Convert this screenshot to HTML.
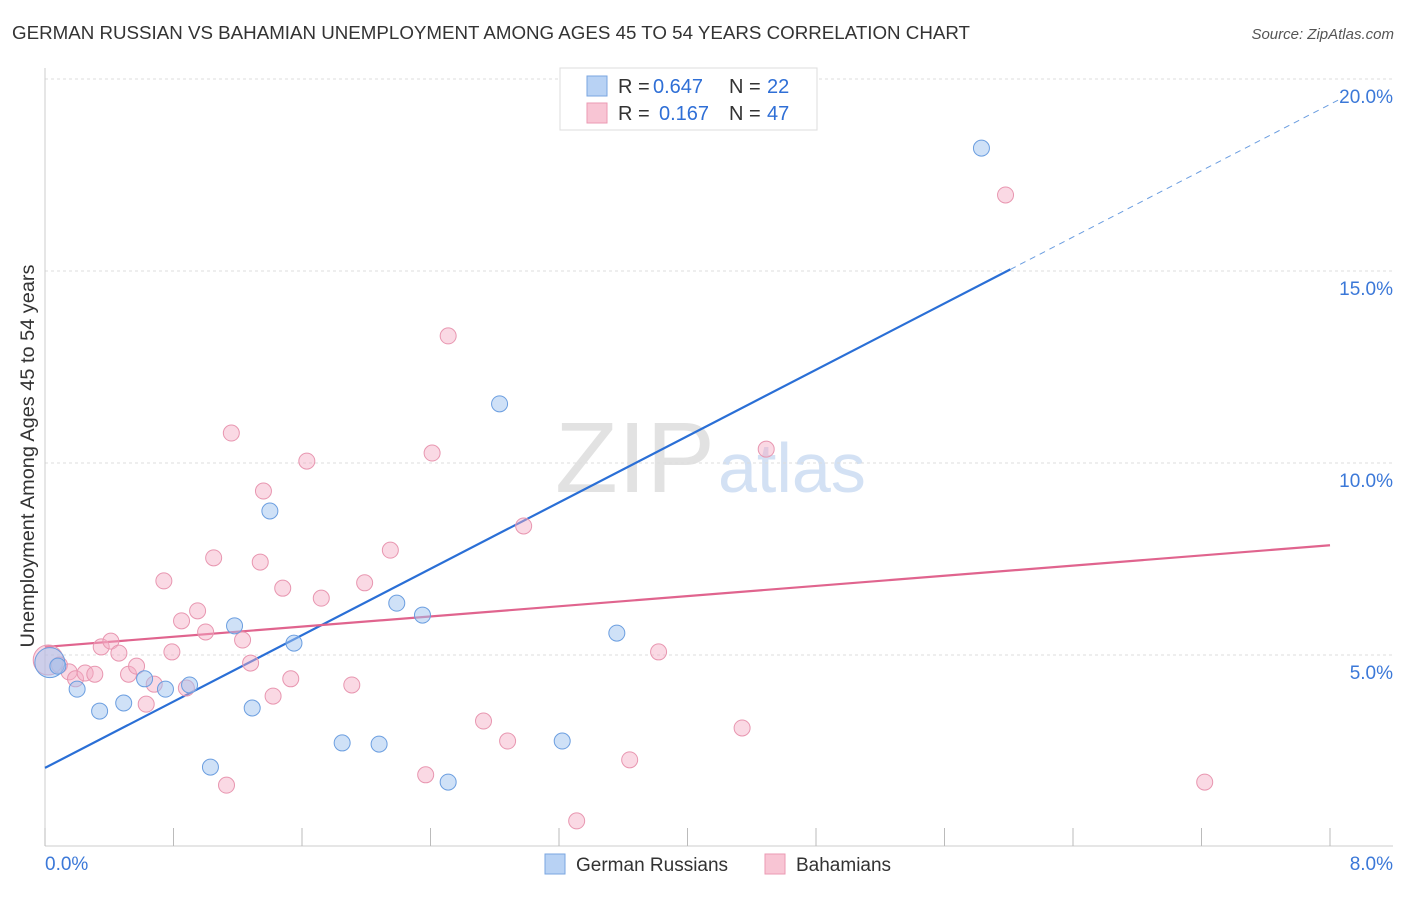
<!DOCTYPE html>
<html><head><meta charset="utf-8"><style>
body{margin:0;background:#fff;font-family:"Liberation Sans",sans-serif}
svg text{font-family:"Liberation Sans",sans-serif}
</style></head><body>
<svg id="c" width="1406" height="892" viewBox="0 0 1406 892">
<text x="12" y="39" font-size="18" fill="#333" textLength="958" lengthAdjust="spacingAndGlyphs">GERMAN RUSSIAN VS BAHAMIAN UNEMPLOYMENT AMONG AGES 45 TO 54 YEARS CORRELATION CHART</text>
<text x="1394" y="39" font-size="15" fill="#555" font-style="italic" text-anchor="end">Source: ZipAtlas.com</text>
<text transform="translate(34,456) rotate(-90)" font-size="19" fill="#333" text-anchor="middle" textLength="383" lengthAdjust="spacingAndGlyphs">Unemployment Among Ages 45 to 54 years</text>
<text x="555" y="492" font-size="100" fill="#e2e2e2" font-family="Liberation Serif" textLength="160" lengthAdjust="spacingAndGlyphs">ZIP</text>
<text x="718" y="492" font-size="70" fill="#d3e1f4">atlas</text>
<g id="grid"></g><g id="axes"></g><g id="lines"></g><g id="pts"></g>
<g>
<rect x="560" y="68" width="257" height="62" fill="#fff" stroke="#ddd"/>
<rect x="587" y="76" width="20" height="20" fill="#b8d2f4" stroke="#7aa6e0"/>
<rect x="587" y="103" width="20" height="20" fill="#f8c5d4" stroke="#eb9ab3"/>
<text y="93" font-size="20" fill="#333"><tspan x="618">R =</tspan><tspan x="653" fill="#2f6fd6">0.647</tspan><tspan x="729">N =</tspan><tspan x="767" fill="#2f6fd6">22</tspan></text>
<text y="120" font-size="20" fill="#333"><tspan x="618">R =</tspan><tspan x="659" fill="#2f6fd6">0.167</tspan><tspan x="729">N =</tspan><tspan x="767" fill="#2f6fd6">47</tspan></text>
</g>
<g>
<rect x="545" y="854" width="20" height="20" fill="#b8d2f4" stroke="#7aa6e0"/>
<text x="576" y="871" font-size="19" fill="#333">German Russians</text>
<rect x="765" y="854" width="20" height="20" fill="#f8c5d4" stroke="#eb9ab3"/>
<text x="796" y="871" font-size="19" fill="#333">Bahamians</text>
</g>
</svg>
<script>
const xTicks=[0,0.8,1.6,2.4,3.2,4,4.8,5.6,6.4,7.2,8];
const yTicks=[5,10,15,20];
const yTickLabels=["5.0%","10.0%","15.0%","20.0%"];
const blueX=[0.03,0.08,0.2,0.34,0.49,0.62,0.75,0.9,1.03,1.18,1.29,1.4,1.55,1.85,2.08,2.19,2.35,2.51,2.83,3.22,3.56,5.83];
const blueY=[4.8,4.71,4.11,3.54,3.75,4.38,4.11,4.22,2.08,5.76,3.62,8.75,5.31,2.71,2.68,6.35,6.04,1.69,11.54,2.76,5.57,18.2];
const pinkX=[0.02,0.09,0.15,0.19,0.25,0.31,0.35,0.41,0.46,0.52,0.57,0.63,0.68,0.74,0.79,0.85,0.88,0.95,1.0,1.05,1.13,1.16,1.23,1.28,1.34,1.36,1.42,1.48,1.53,1.63,1.72,1.91,1.99,2.15,2.37,2.41,2.51,2.73,2.88,2.98,3.31,3.64,3.82,4.34,4.49,5.98,7.22];
const pinkY=[4.87,4.74,4.56,4.38,4.53,4.5,5.21,5.36,5.05,4.5,4.71,3.72,4.24,6.93,5.08,5.89,4.14,6.15,5.6,7.53,1.61,10.78,5.39,4.79,7.42,9.27,3.93,6.74,4.38,10.05,6.48,4.22,6.88,7.73,1.88,10.26,13.31,3.28,2.76,8.36,0.68,2.27,5.08,3.1,10.36,16.98,1.69];
const blueTrend=[2.06,2.16];
const pinkTrend=[5.21,0.331];
const sx=v=>45+v*160.625, sy=v=>847-v*38.4;
const NS="http://www.w3.org/2000/svg";
function mk(t,a,p){const e=document.createElementNS(NS,t);for(const k in a)e.setAttribute(k,a[k]);p.appendChild(e);return e;}
const grid=document.getElementById('grid'),axes=document.getElementById('axes'),lines=document.getElementById('lines'),pts=document.getElementById('pts');
yTicks.forEach((t,i)=>{
 const l=mk('line',{x1:45,x2:1393,y1:sy(t),y2:sy(t),stroke:'#ddd','stroke-dasharray':'3,3'},grid);
 
 
 const tx=mk('text',{x:1393,y:sy(t)+24,'font-size':19,fill:'#3b78d8','text-anchor':'end'},axes);
 tx.textContent=yTickLabels[i];
 
 
});
const ax=mk('line',{x1:45,x2:45,y1:68,y2:846,stroke:'#ccc'},axes);


const bx=mk('line',{x1:45,x2:1393,y1:846,y2:846,stroke:'#ccc'},axes);


xTicks.forEach(t=>{
 const l=mk('line',{x1:sx(t),x2:sx(t),y1:828,y2:846,stroke:'#bbb'},axes);
 
 
});
[[0,'0.0%','start',45],[8,'8.0%','end',1393]].forEach(d=>{
 const tx=mk('text',{x:d[3],y:870,'font-size':19,fill:'#3b78d8','text-anchor':d[2]},axes);
 tx.textContent=d[1];
 
 
});
const bt=x=>blueTrend[0]+blueTrend[1]*x, pt=x=>pinkTrend[0]+pinkTrend[1]*x;
const l1=mk('line',{x1:sx(0),y1:sy(bt(0)),x2:sx(6.01),y2:sy(bt(6.01)),stroke:'#2a6fd6','stroke-width':2.2},lines);


const l2=mk('line',{x1:sx(6.01),y1:sy(bt(6.01)),x2:sx(8.05),y2:sy(bt(8.05)),stroke:'#6a9de0','stroke-width':1,'stroke-dasharray':'6,5'},lines);


const l3=mk('line',{x1:sx(0),y1:sy(pt(0)),x2:sx(8),y2:sy(pt(8)),stroke:'#e0648e','stroke-width':2.2},lines);


pinkX.forEach((x,i)=>{
 const c=mk('circle',{cx:sx(x),cy:sy(pinkY[i]),r:i==0?15:8,fill:'rgba(245,170,195,0.45)',stroke:'#e896b0','stroke-width':1},pts);
 
 
});
blueX.forEach((x,i)=>{
 const c=mk('circle',{cx:sx(x),cy:sy(blueY[i]),r:i==0?15:8,fill:'rgba(160,195,240,0.5)',stroke:'#6b9ee0','stroke-width':1},pts);
 
 
});
</script>
</body></html>
